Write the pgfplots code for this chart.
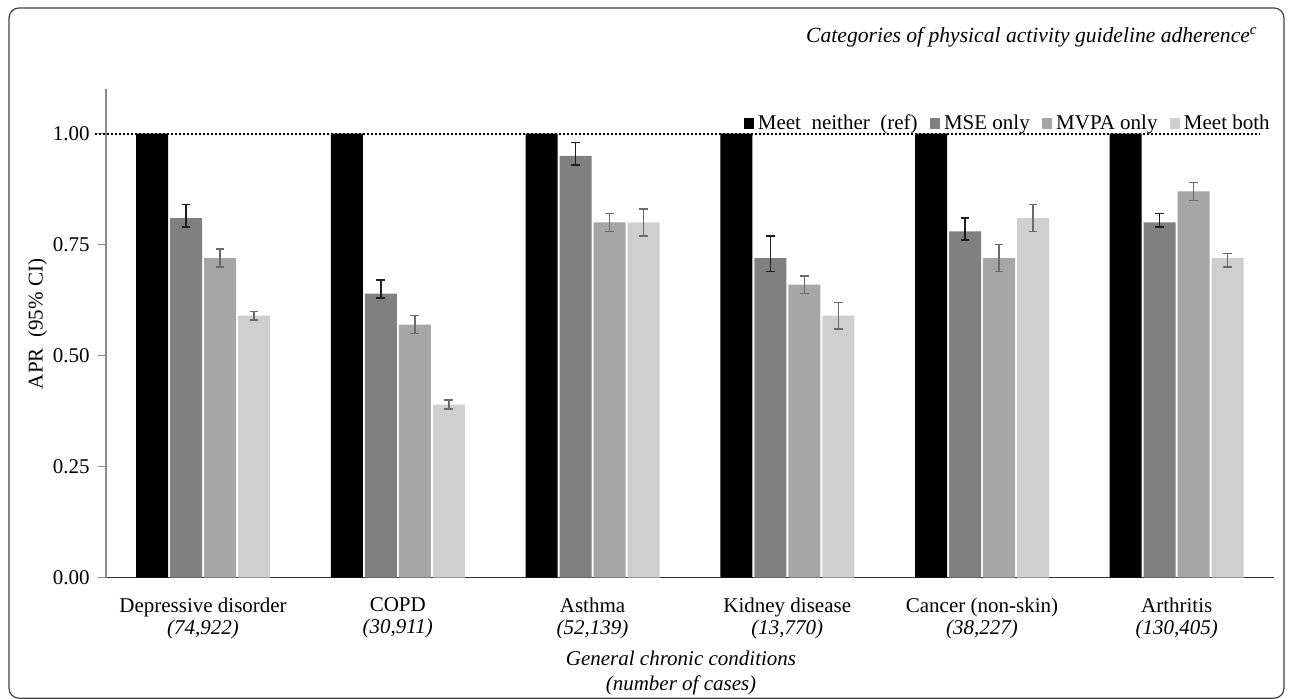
\documentclass[border=0pt]{standalone}
\usepackage{fontspec}
\setmainfont{Liberation Serif}
\usepackage{pgfplots}
\pgfplotsset{compat=1.18}
\usepackage{pgfplotstable}

\definecolor{cA}{HTML}{000000}
\definecolor{cB}{HTML}{808080}
\definecolor{cC}{HTML}{A6A6A6}
\definecolor{cD}{HTML}{D0CFCF}
\definecolor{errB}{HTML}{1E1E1E}
\definecolor{errC}{HTML}{6A6A6A}
\definecolor{yax}{HTML}{8C8C8C}
\definecolor{xax}{HTML}{333333}

\newcommand\fs{\fontsize{10.5}{11}\selectfont}

\pgfplotstableread{
x y
0 1
1 1
2 1
3 1
4 1
5 1
}\neither
\pgfplotstableread{
x y ep em
0 0.81 0.03 0.02
1 0.64 0.03 0.01
2 0.95 0.03 0.02
3 0.72 0.05 0.03
4 0.78 0.03 0.02
5 0.80 0.02 0.01
}\mse
\pgfplotstableread{
x y ep em
0 0.72 0.02 0.02
1 0.57 0.02 0.02
2 0.80 0.02 0.02
3 0.66 0.02 0.02
4 0.72 0.03 0.03
5 0.87 0.02 0.02
}\mvpa
\pgfplotstableread{
x y ep em
0 0.59 0.01 0.01
1 0.39 0.01 0.01
2 0.80 0.03 0.03
3 0.59 0.03 0.03
4 0.81 0.03 0.03
5 0.72 0.01 0.02
}\both

\begin{document}
\begin{tikzpicture}
\begin{axis}[
  at={(52.85pt,60.65pt)}, anchor=south west,
  scale only axis, width=584.2pt, height=244.2pt,
  xmin=-0.5, xmax=5.5, ymin=0, ymax=1.1,
  axis x line*=bottom, axis y line*=left,
  x axis line style={draw=xax, line width=0.8pt},
  y axis line style={draw=yax, line width=0.8pt},
  xtick={0,1,2,3,4,5},
  xticklabels={{Depressive disorder\\\textit{(74,922)}},{COPD\\\textit{(30,911)}},{Asthma\\\textit{(52,139)}},{Kidney disease\\\textit{(13,770)}},{Cancer (non-skin)\\\textit{(38,227)}},{Arthritis\\\textit{(130,405)}}},
  xtick style={draw=none},
  xticklabel style={align=center, font=\fs, yshift=-2.5pt},
  ytick={0,0.25,0.5,0.75,1},
  ytick style={draw=yax, line width=0.6pt},
  major tick length=4pt, tick align=outside,
  yticklabel style={font=\fs, xshift=-0.5pt, /pgf/number format/.cd, fixed, fixed zerofill, precision=2, assume math mode=true},
  ybar=1pt, bar width=16pt,
  clip=false,
  legend columns=4,
  legend style={draw=none, fill=none, font=\fs, at={(rel axis cs:1.0,0.93)}, anchor=east,
    /tikz/every even column/.append style={column sep=4pt}, inner sep=0pt},
  legend image code/.code={\fill[#1] (0pt,-2.6pt) rectangle (5.2pt,2.6pt);},
]
\addplot[fill=cA, draw=none] table[x=x,y=y]{\neither};
\addplot[fill=cB, draw=none, error bars/.cd, y dir=both, y explicit,
  error bar style={draw=errB, line width=0.75pt},
  error mark options={draw=errB, line width=0.75pt, mark size=2.2pt, rotate=90}]
  table[x=x,y=y,y error plus=ep,y error minus=em]{\mse};
\addplot[fill=cC, draw=none, error bars/.cd, y dir=both, y explicit,
  error bar style={draw=errC, line width=0.75pt},
  error mark options={draw=errC, line width=0.75pt, mark size=2.2pt, rotate=90}]
  table[x=x,y=y,y error plus=ep,y error minus=em]{\mvpa};
\addplot[fill=cD, draw=none, error bars/.cd, y dir=both, y explicit,
  error bar style={draw=errC, line width=0.75pt},
  error mark options={draw=errC, line width=0.75pt, mark size=2.2pt, rotate=90}]
  table[x=x,y=y,y error plus=ep,y error minus=em]{\both};
\legend{Meet\ \ neither\ \ (ref), MSE only, MVPA only, Meet both}
\draw[black, line width=1pt, dash pattern=on 1pt off 1pt] (axis cs:-0.555,1) -- (axis cs:5.428,1);
\end{axis}
\node[font=\fs, rotate=90] at (18.8pt,187.5pt) {APR\ \ (95\% CI)};
\node[font=\fontsize{10.8}{12}\selectfont\itshape, anchor=east, inner sep=0pt] at (629pt,331pt) {Categories of physical activity guideline adherence\textsuperscript{c}};
\node[font=\fs\itshape, align=center] at (340.5pt,13pt) {General chronic conditions\\[1.5pt](number of cases)};
\draw[black!75, line width=0.6pt, rounded corners=5pt] (4.5pt,0.4pt) rectangle (642pt,345.5pt);
\pgfresetboundingbox
\useasboundingbox (0,0) rectangle (646pt,349.5pt);
\end{tikzpicture}
\end{document}
